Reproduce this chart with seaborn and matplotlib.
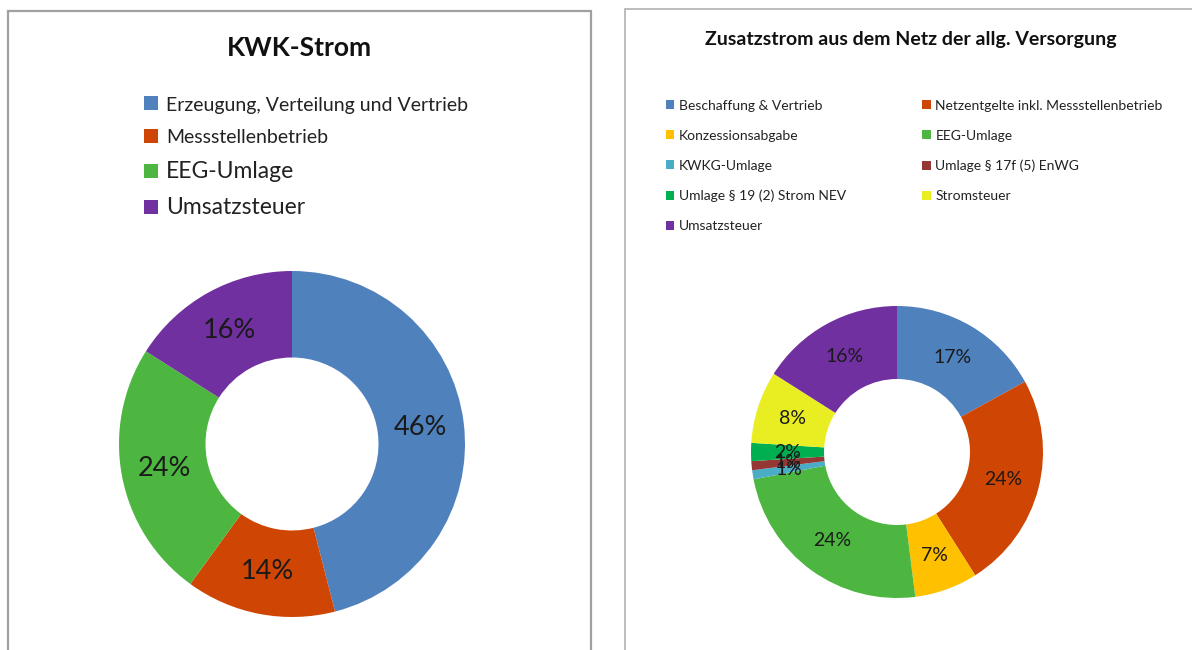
import numpy as np
import seaborn as sns
import matplotlib.pyplot as plt
from matplotlib.patches import Rectangle

sns.set_theme(style='white')
plt.rcParams['font.family'] = ['Lato', 'DejaVu Sans']

# left chart
kwk_labels = ['Erzeugung, Verteilung und Vertrieb', 'Messstellenbetrieb',
              'EEG-Umlage', 'Umsatzsteuer']
kwk_values = [46, 14, 24, 16]
kwk_colors = ['#4F81BD', '#CF4504', '#4DB640', '#7030A0']

# right chart
zus_labels = ['Beschaffung & Vertrieb', 'Netzentgelte inkl. Messstellenbetrieb',
              'Konzessionsabgabe', 'EEG-Umlage', 'KWKG-Umlage',
              'Umlage § 17f (5) EnWG', 'Umlage § 19 (2) Strom NEV',
              'Stromsteuer', 'Umsatzsteuer']
zus_values = [17, 24, 7, 24, 1, 1, 2, 8, 16]
zus_colors = ['#4F81BD', '#CF4504', '#FFC000', '#4DB640', '#4BACC6',
              '#953735', '#00B050', '#E9EE22', '#7030A0']

W, H = 1192, 650
fig = plt.figure(figsize=(W / 100, H / 100), dpi=100)


def px_axes(cx, cy, r):
    return fig.add_axes([(cx - r) / W, (H - cy - r) / H, 2 * r / W, 2 * r / H])


def donut(ax, values, colors, fs):
    wedges, _, autotexts = ax.pie(
        values, colors=colors, startangle=90, counterclock=False,
        radius=1, pctdistance=0.75, autopct=lambda p: f'{p:.0f}%',
        wedgeprops=dict(width=0.5, edgecolor='none', linewidth=0),
        textprops=dict(fontsize=fs, color='#1a1a1a'))
    ax.set_xlim(-1, 1)
    ax.set_ylim(-1, 1)
    ax.set_aspect('equal')
    ax.axis('off')
    return wedges


# panel borders
fig.patches.append(Rectangle((8 / W, -0.05), 583 / W, 1.05 - 11 / H,
                             transform=fig.transFigure, fill=False,
                             edgecolor='#a0a0a0', linewidth=1.6))
fig.patches.append(Rectangle((625 / W, -0.05), 600 / W, 1.05 - 9 / H,
                             transform=fig.transFigure, fill=False,
                             edgecolor='#b0b0b0', linewidth=1.2))

ax1 = px_axes(292, 444, 173)
w1 = donut(ax1, kwk_values, kwk_colors, 19.5)

ax2 = px_axes(897, 452, 146)
w2 = donut(ax2, zus_values, zus_colors, 14)

fig.text(299 / W, 1 - 48 / H, 'KWK-Strom', ha='center', va='center',
         fontsize=19, fontweight='bold', color='#111111')
fig.text(911 / W, 1 - 40 / H, 'Zusatzstrom aus dem Netz der allg. Versorgung',
         ha='center', va='center', fontsize=14, fontweight='bold',
         color='#111111')

leg1 = fig.legend(w1, kwk_labels, loc='upper left',
                  bbox_to_anchor=(136 / W, 1 - 88 / H), frameon=False,
                  fontsize=15, handlelength=0.65, handleheight=0.65,
                  handletextpad=0.4, labelspacing=0.72, borderaxespad=0)
for t, s in zip(leg1.get_texts(), [14, 14, 16.5, 16.5]):
    t.set_fontsize(s)
    t.set_color('#222222')

# legend order is row-wise in the reference, matplotlib fills columns first
order = [0, 2, 4, 6, 8, 1, 3, 5, 7]
leg2 = fig.legend([w2[i] for i in order], [zus_labels[i] for i in order],
                  loc='upper left', ncol=2,
                  bbox_to_anchor=(660 / W, 1 - 94 / H), frameon=False,
                  fontsize=10, handlelength=0.6, handleheight=0.6,
                  handletextpad=0.35, labelspacing=1.3, columnspacing=5.5,
                  borderaxespad=0)
for t in leg2.get_texts():
    t.set_color('#222222')

fig.savefig('out.png', dpi=100, facecolor='white')
